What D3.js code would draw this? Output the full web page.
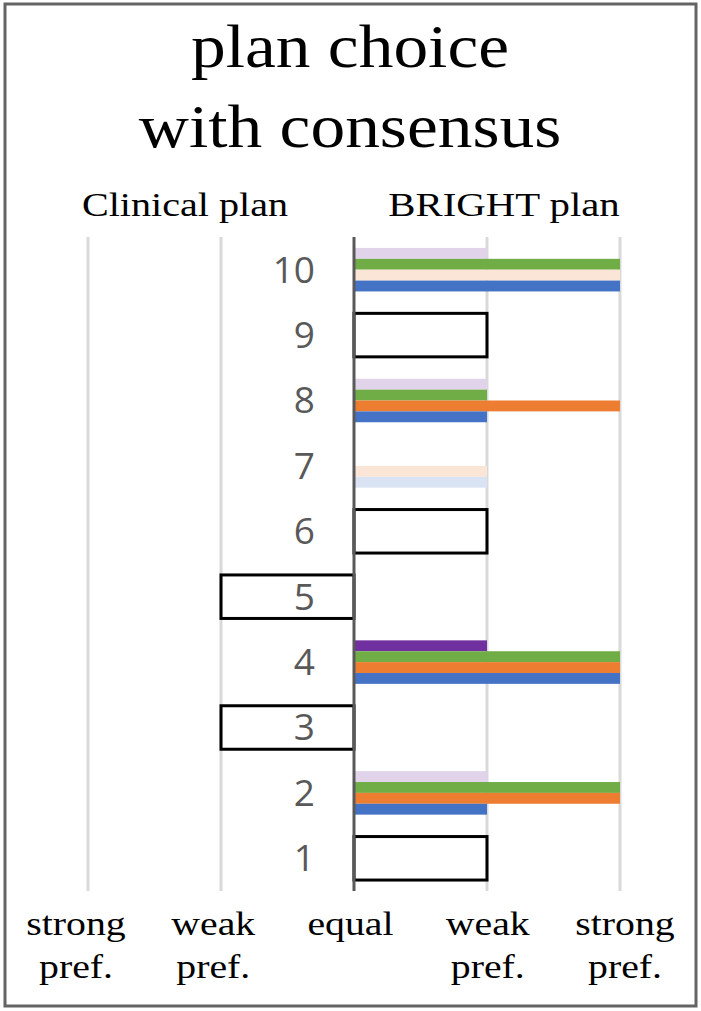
<!DOCTYPE html>
<html>
<head>
<meta charset="utf-8">
<script src="https://cdn.jsdelivr.net/npm/d3@7"></script>
<style>
  html, body { margin: 0; padding: 0; background: #fff; }
  svg { display: block; }
</style>
</head>
<body>
<svg id="chart" width="701" height="1011"></svg>
<script>
// ---- data ----
const categories = [1, 2, 3, 4, 5, 6, 7, 8, 9, 10];
const blueValues   = [0, 1, 0, 2, 0, 0, 1, 1, 0, 2];
const orangeValues = [0, 2, 0, 2, 0, 0, 1, 2, 0, 2];
const greenValues  = [0, 2, 0, 2, 0, 0, 0, 1, 0, 2];
const purpleValues = [0, 1, 0, 1, 0, 0, 0, 1, 0, 1];
// faded (tentative) answers
const blueFaded   = [false, false, false, false, false, false, true,  false, false, false];
const orangeFaded = [false, false, false, false, false, false, true,  false, false, true];
const greenFaded  = [false, false, false, false, false, false, false, false, false, false];
const purpleFaded = [false, true,  false, false, false, false, false, true,  false, true];
// consensus answer (null = none drawn)
const consensus = [1, null, -1, null, -1, 1, null, null, 1, null];
const tickValues = [-2, -1, 0, 1, 2];
const tickLabels = [["strong", "pref."], ["weak", "pref."], ["equal"], ["weak", "pref."], ["strong", "pref."]];
const title = ["plan choice", "with consensus"];
const sideLabels = ["Clinical plan", "BRIGHT plan"];

// series order from top of group to bottom
const series = [
  { values: purpleValues, faded: purpleFaded, color: "#7030A0", light: "#E1D4EA" },
  { values: greenValues,  faded: greenFaded,  color: "#70AD47", light: "#E2EFDA" },
  { values: orangeValues, faded: orangeFaded, color: "#ED7D31", light: "#FBE5D6" },
  { values: blueValues,   faded: blueFaded,   color: "#4472C4", light: "#DAE3F3" }
];

const svg = d3.select("#chart");
const serif = "'Liberation Serif', 'Times New Roman', serif";

// frame
svg.append("rect").attr("x", 5).attr("y", 4).attr("width", 691).attr("height", 1002)
  .attr("fill", "#fff").attr("stroke", "#646464").attr("stroke-width", 3);

const x = d3.scaleLinear().domain([-2, 2]).range([88, 620]);
const y = d3.scaleBand().domain(categories.slice().reverse())
  .range([237, 891]).paddingInner(0.335).paddingOuter(0.1675);
const labelX = d3.scaleLinear().domain([-2, 2]).range([76, 625]);

function serifText(g, txt, cx, cy, size, stretch) {
  g.append("text")
    .attr("transform", `translate(${cx},${cy}) scale(${stretch},1)`)
    .attr("text-anchor", "middle")
    .attr("font-family", serif)
    .attr("font-size", size)
    .attr("fill", "#000")
    .text(txt);
}

// title
serifText(svg, title[0], 350, 67, 62, 1.12);
serifText(svg, title[1], 350, 147, 62, 1.12);
serifText(svg, sideLabels[0], 185, 216, 34, 1.18);
serifText(svg, sideLabels[1], 504, 216, 34, 1.2);

// gridlines
svg.append("g").selectAll("line").data(tickValues.filter(d => d !== 0)).join("line")
  .attr("x1", d => x(d)).attr("x2", d => x(d))
  .attr("y1", 237).attr("y2", 891)
  .attr("stroke", "#D9D9D9").attr("stroke-width", 3);

// bars
const barH = y.bandwidth() / series.length;
series.forEach((s, si) => {
  svg.append("g").selectAll("rect")
    .data(categories.map((c, i) => ({ c, v: s.values[i], f: s.faded[i] })).filter(d => d.v !== 0))
    .join("rect")
    .attr("x", d => Math.min(x(0), x(d.v)))
    .attr("width", d => Math.abs(x(d.v) - x(0)))
    .attr("y", d => y(d.c) + si * barH)
    .attr("height", barH)
    .attr("fill", d => d.f ? s.light : s.color);
});

// consensus boxes
svg.append("g").selectAll("rect")
  .data(categories.map((c, i) => ({ c, v: consensus[i] })).filter(d => d.v !== null))
  .join("rect")
  .attr("x", d => Math.min(x(0), x(d.v)))
  .attr("width", d => Math.abs(x(d.v) - x(0)))
  .attr("y", d => y(d.c))
  .attr("height", y.bandwidth())
  .attr("fill", "none").attr("stroke", "#000").attr("stroke-width", 3);

// zero axis
svg.append("line").attr("x1", x(0)).attr("x2", x(0)).attr("y1", 237).attr("y2", 891)
  .attr("stroke", "#595959").attr("stroke-width", 3);

// category labels
svg.append("g").selectAll("text").data(categories).join("text")
  .attr("x", 315)
  .attr("y", d => y(d) + y.bandwidth() / 2)
  .attr("dy", "0.35em")
  .attr("text-anchor", "end")
  .attr("font-family", "'Open Sans', 'Noto Sans', sans-serif")
  .attr("font-size", 37)
  .attr("fill", "#595959")
  .text(d => d);

// bottom axis labels
tickValues.forEach((t, i) => {
  tickLabels[i].forEach((line, li) => {
    serifText(svg, line, labelX(t), 935 + li * 43, 34, 1.17);
  });
});
</script>
</body>
</html>
